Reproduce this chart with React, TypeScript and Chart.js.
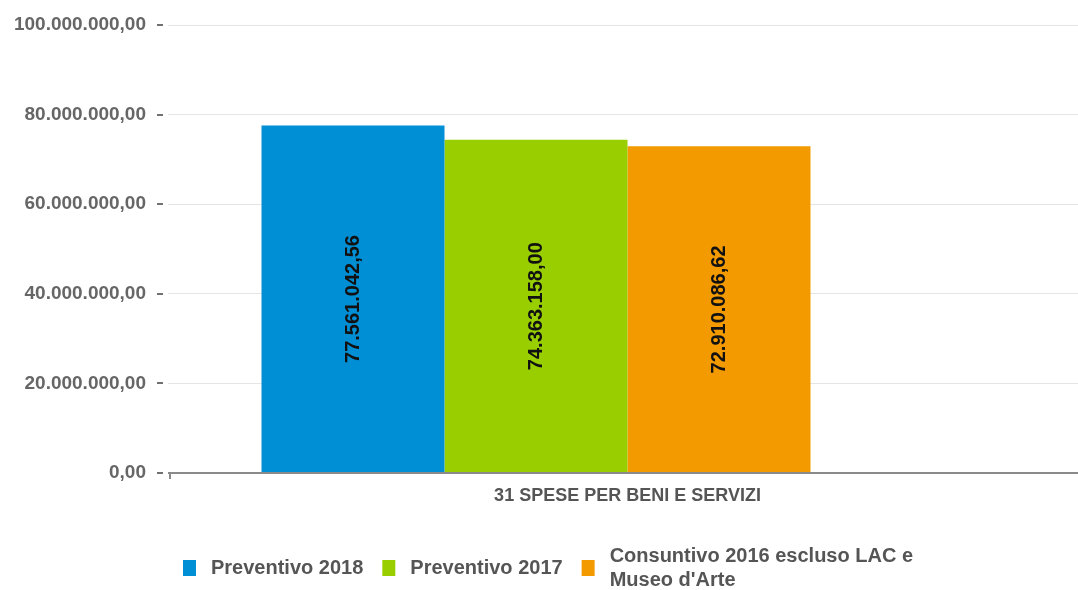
import React, { useEffect, useRef } from "react";
import { Chart, registerables } from "chart.js";

Chart.register(...registerables);

const categories = ["31 SPESE PER BENI E SERVIZI"];
const seriesNames = ["Preventivo 2018", "Preventivo 2017", "Consuntivo 2016 escluso LAC e Museo d'Arte", ""];
const legendLines = [["Preventivo 2018"], ["Preventivo 2017"], ["Consuntivo 2016 escluso LAC e", "Museo d'Arte"]];
const preventivo2018 = [77561042.56];
const preventivo2017 = [74363158.0];
const consuntivo2016 = [72910086.62];
const emptySeries = [null];
const seriesColors = ["#008fd5", "#99cf00", "#f29a00", "rgba(0,0,0,0)"];
const yTicks = [0, 20000000, 40000000, 60000000, 80000000, 100000000];

const FONT = "'Liberation Sans', Arial, sans-serif";

function formatIt(v: number): string {
  const fixed = Math.abs(v).toFixed(2);
  const [intPart, dec] = fixed.split(".");
  const grouped = intPart.replace(/\B(?=(\d{3})+(?!\d))/g, ".");
  return (v < 0 ? "-" : "") + grouped + "," + dec;
}

const decorPlugin = {
  id: "decor",
  afterDatasetsDraw(chart: any) {
    const { ctx, chartArea } = chart;
    ctx.save();
    // data labels
    ctx.font = `bold 20px ${FONT}`;
    ctx.fillStyle = "#111";
    ctx.textAlign = "center";
    ctx.textBaseline = "middle";
    chart.data.datasets.forEach((ds: any, i: number) => {
      const meta = chart.getDatasetMeta(i);
      meta.data.forEach((bar: any, j: number) => {
        const v = ds.data[j];
        if (v === null || v === undefined) return;
        const cx = bar.x;
        const cy = (bar.y + bar.base) / 2;
        ctx.save();
        ctx.translate(cx, cy);
        ctx.rotate(-Math.PI / 2);
        ctx.fillText(formatIt(v), 0, 0);
        ctx.restore();
      });
    });
    // x axis line
    ctx.strokeStyle = "#8a8a8a";
    ctx.lineWidth = 2;
    ctx.beginPath();
    ctx.moveTo(chartArea.left, chartArea.bottom);
    ctx.lineTo(chartArea.right, chartArea.bottom);
    ctx.stroke();
    ctx.beginPath();
    ctx.moveTo(chartArea.left + 2, chartArea.bottom);
    ctx.lineTo(chartArea.left + 2, chartArea.bottom + 6);
    ctx.stroke();
    // y tick dashes
    const yScale = chart.scales.y;
    ctx.strokeStyle = "#707070";
    ctx.lineWidth = 2;
    yScale.ticks.forEach((t: any) => {
      const y = Math.round(yScale.getPixelForValue(t.value));
      ctx.beginPath();
      ctx.moveTo(chartArea.left - 11, y);
      ctx.lineTo(chartArea.left - 5, y);
      ctx.stroke();
    });
    // legend
    ctx.font = `bold 20px ${FONT}`;
    ctx.textAlign = "left";
    ctx.textBaseline = "middle";
    let x = 183;
    const cy = 568;
    legendLines.forEach((lines, i) => {
      ctx.fillStyle = seriesColors[i];
      ctx.fillRect(x, cy - 8, 13, 16);
      const tx = x + 28;
      ctx.fillStyle = "#555555";
      const lh = 24;
      const startY = cy - ((lines.length - 1) * lh) / 2;
      let maxW = 0;
      lines.forEach((ln, k) => {
        ctx.fillText(ln, tx, startY + k * lh);
        maxW = Math.max(maxW, ctx.measureText(ln).width);
      });
      x = tx + maxW + 19;
    });
    ctx.restore();
  },
};

export default function App() {
  const canvasRef = useRef<HTMLCanvasElement | null>(null);

  useEffect(() => {
    if (!canvasRef.current) return;
    const seriesData = [preventivo2018, preventivo2017, consuntivo2016, emptySeries];
    const chart = new Chart(canvasRef.current, {
      type: "bar",
      data: {
        labels: categories,
        datasets: seriesNames.map((name, i) => ({
          label: name,
          data: seriesData[i],
          backgroundColor: seriesColors[i],
          borderWidth: 0,
          categoryPercentage: 0.7965,
          barPercentage: 1,
        })),
      },
      options: {
        responsive: true,
        maintainAspectRatio: false,
        animation: false,
        layout: { padding: { top: 25, right: 9, bottom: 0, left: 0 } },
        plugins: {
          legend: { display: false },
          tooltip: { enabled: false },
        },
        scales: {
          x: {
            grid: { display: false, drawTicks: false },
            border: { display: false },
            ticks: {
              padding: 12,
              color: "#555555",
              font: { family: FONT, size: 18, weight: "bold" },
            },
            afterFit: (scale: any) => {
              scale.height = 117;
            },
          },
          y: {
            min: 0,
            max: 100000000,
            afterBuildTicks: (scale: any) => {
              scale.ticks = yTicks.map((v) => ({ value: v }));
            },
            grid: { color: "#e4e4e4", lineWidth: 1, drawTicks: false },
            border: { display: false },
            ticks: {
              padding: 22,
              color: "#666666",
              font: { family: FONT, size: 19, weight: "bold" },
              callback: (v: any) => formatIt(Number(v)),
            },
            afterFit: (scale: any) => {
              scale.width = 168;
              scale.paddingTop = 0;
              scale.paddingBottom = 0;
            },
          },
        },
      },
      plugins: [decorPlugin],
    });
    return () => chart.destroy();
  }, []);

  return (
    <div style={{ position: "absolute", left: 0, top: 0, width: 1078, height: 590, overflow: "hidden", background: "#fff" }}>
      <div style={{ position: "absolute", left: 0, top: 0, width: 1096, height: 590 }}>
        <canvas ref={canvasRef} />
      </div>
    </div>
  );
}
